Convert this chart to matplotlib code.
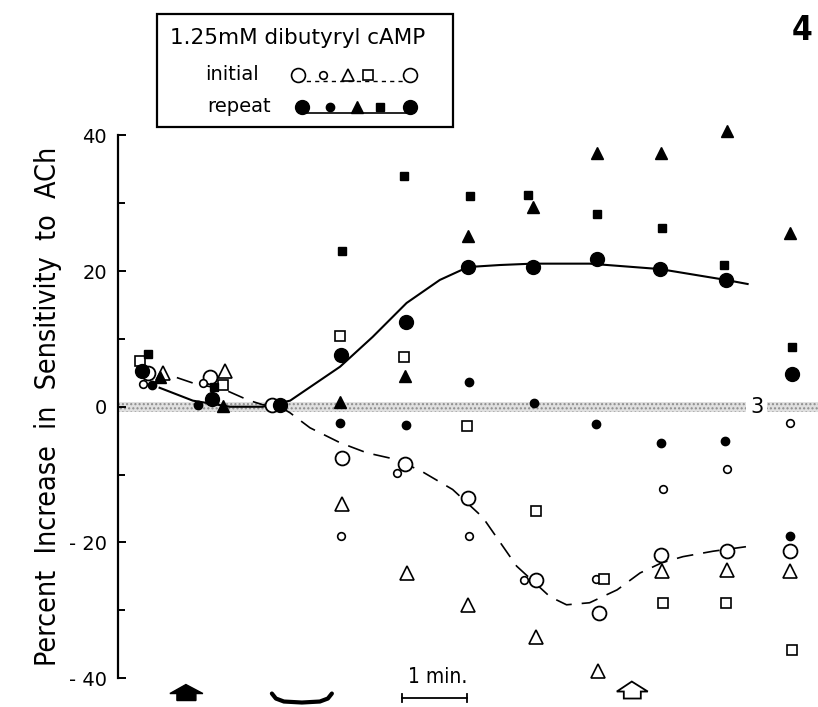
import matplotlib
matplotlib.use('Agg')
import matplotlib.pyplot as plt
from matplotlib import font_manager
from matplotlib.patches import Polygon, Rectangle
from matplotlib.lines import Line2D

# Percent increase in ACh sensitivity, 1.25 mM dibutyryl cAMP.
# x in minutes (0 = end of the bracket), y in percent.

# initial application
t_init_big = [-2.06, -1.09, -0.12, 0.97, 1.95, 2.94, 4.0, 4.98, 5.95, 6.98, 7.97]
y_init_big = [5.0, 4.4, 0.3, -7.5, -8.5, -13.5, -25.5, -30.4, -21.9, -21.2, -21.2]
t_init_small = [-2.14, -1.2, 0.95, 1.83, 2.95, 3.81, 4.94, 5.98, 6.98, 7.97]
y_init_small = [3.4, 3.5, -19.0, -9.7, -19.0, -25.6, -25.4, -12.1, -9.2, -2.4]
t_init_tri = [-1.83, -0.86, 0.97, 1.98, 2.94, 4.0, 4.97, 5.97, 6.98, 7.97]
y_init_tri = [5.0, 5.2, -14.4, -24.5, -29.3, -34.0, -38.9, -24.2, -24.0, -24.2]
t_init_sq = [-2.19, -0.89, 0.94, 1.94, 2.92, 4.0, 5.06, 5.98, 6.97, 8.0]
y_init_sq = [6.8, 3.2, 10.5, 7.4, -2.8, -15.3, -25.4, -29.0, -29.0, -35.8]

# repeat application
t_rep_big = [-2.16, -1.06, 0.0, 0.95, 1.97, 2.94, 3.95, 4.95, 5.94, 6.97, 8.0]
y_rep_big = [5.2, 1.2, 0.3, 7.7, 12.5, 20.6, 20.6, 21.8, 20.3, 18.7, 4.9]
t_rep_small = [-2.0, -1.28, 0.94, 1.97, 2.95, 3.97, 4.94, 5.95, 6.95, 7.97]
y_rep_small = [3.2, 0.3, -2.4, -2.7, 3.7, 0.6, -2.5, -5.4, -5.1, -19.1]
t_rep_tri = [-1.88, -0.89, 0.94, 1.95, 2.94, 3.95, 4.95, 5.95, 6.98, 7.97]
y_rep_tri = [4.4, 0.15, 0.7, 4.6, 25.2, 29.5, 37.4, 37.4, 40.6, 25.6]
t_rep_sq = [-2.06, -1.03, 0.97, 1.94, 2.97, 3.88, 4.95, 5.97, 6.94, 8.0]
y_rep_sq = [7.8, 2.9, 23.0, 34.0, 31.1, 31.2, 28.4, 26.4, 20.9, 8.8]

# hand drawn curves
t_curve_rep = [-1.88, -1.36, -0.78, -0.27, 0.16, 0.94, 1.45, 1.98, 2.5, 2.94,
               3.44, 3.95, 4.84, 5.94, 6.97, 7.31]
y_curve_rep = [2.8, 0.9, 0.0, 0.0, 0.9, 5.9, 10.3, 15.3, 18.7, 20.6,
               20.9, 21.1, 21.1, 20.3, 18.7, 18.1]
t_curve_init = [-1.61, -1.36, -0.86, -0.5, -0.27, 0.0, 0.16, 0.47, 0.94, 1.36,
                1.83, 2.23, 2.7, 3.17, 3.7, 4.22, 4.48, 4.84, 5.27, 5.63,
                5.97, 6.3, 6.77, 7.39]
y_curve_init = [4.3, 3.5, 2.5, 1.0, 0.3, 0.0, -0.9, -3.1, -5.3, -6.8,
                -7.8, -9.6, -12.2, -16.3, -23.5, -28.0, -29.2, -28.9, -27.0, -24.5,
                -23.0, -22.1, -21.3, -20.5]

yticks = [-40, -20, 0, 20, 40]
yticklabels = ['- 40', '- 20', '0', '20', '40']

# fonts {{{
names = {f.name for f in font_manager.fontManager.ttflist}
narrow = 'Liberation Sans Narrow' if 'Liberation Sans Narrow' in names else 'DejaVu Sans'
plt.rcParams['font.family'] = ['DejaVu Sans']
plt.rcParams['hatch.linewidth'] = 1.0
#}}}

W, H = 818, 707
fig = plt.figure(figsize=(W/100, H/100), dpi=100)

def px(x, y):
    return x/W, 1 - y/H

# axes: left spine at x=118 px, 40 at y=135 px, -40 at y=678 px
ax = fig.add_axes([118/W, 0, 1 - 118/W, 607/H])
ax.set_xlim(-2.53, 8.41)
ax.set_ylim(-44.27, 45.23)
ax.patch.set_alpha(0)

for s in ['top', 'right', 'bottom']:
    ax.spines[s].set_visible(False)
ax.spines['left'].set_bounds(-40, 40)
ax.spines['left'].set_linewidth(1.6)
ax.set_xticks([])
ax.set_yticks(yticks)
ax.set_yticklabels(yticklabels, fontsize=14)
ax.set_yticks([-30, -10, 10, 30], minor=True)
ax.tick_params(axis='y', which='both', direction='in', width=1.4, pad=8)
ax.tick_params(axis='y', which='major', length=6)
ax.tick_params(axis='y', which='minor', length=5)

ax.set_ylabel('Percent  Increase  in  Sensitivity  to  ACh', fontsize=20.5,
              family=narrow, fontstretch='condensed')
ax.yaxis.set_label_coords(-0.08, 0.495)

# stippled zero band, broken for the "3"
for x0, x1 in [(-2.53, 7.28), (7.62, 8.41)]:
    ax.fill_between([x0, x1], -0.75, 0.75, facecolor='0.88', edgecolor='0.55',
                    hatch='....', linewidth=0, zorder=1)
ax.text(7.45, 0.0, '3', fontsize=15, ha='center', va='center')

# curves
ax.plot(t_curve_rep, y_curve_rep, color='k', lw=1.5, zorder=2)
ax.plot(t_curve_init, y_curve_init, color='k', lw=1.2, dashes=(10, 6), zorder=2)

# points
open_kw = dict(ls='none', mfc='white', mec='k', zorder=3)
fill_kw = dict(ls='none', color='k', zorder=4)
ax.plot(t_init_big, y_init_big, 'o', ms=10, mew=1.3, **open_kw)
ax.plot(t_init_small, y_init_small, 'o', ms=5.5, mew=1.2, **open_kw)
ax.plot(t_init_tri, y_init_tri, '^', ms=9.5, mew=1.2, **open_kw)
ax.plot(t_init_sq, y_init_sq, 's', ms=7, mew=1.2, **open_kw)
ax.plot(t_rep_big, y_rep_big, 'o', ms=10, **fill_kw)
ax.plot(t_rep_small, y_rep_small, 'o', ms=6, **fill_kw)
ax.plot(t_rep_tri, y_rep_tri, '^', ms=8.5, **fill_kw)
ax.plot(t_rep_sq, y_rep_sq, 's', ms=5.5, **fill_kw)

# bottom symbols, drawn in pixel units
def pts(lst):
    return [((x - 280)/64, (407 - y)/6.7875) for x, y in lst]

arrow = [(170, 694), (186, 685), (203, 694), (196, 694), (196, 701), (177, 701), (177, 694)]
ax.add_patch(Polygon(pts(arrow), closed=True, fc='k', ec='k', lw=1, clip_on=False))
open_arrow = [(617, 692), (632, 682), (648, 692), (641, 692), (641, 699), (624, 699), (624, 692)]
ax.add_patch(Polygon(pts(open_arrow), closed=True, fc='white', ec='k', lw=1.3, clip_on=False))
bracket = pts([(272, 694), (276, 699), (284, 702), (302, 703), (320, 702), (328, 699), (332, 694)])
ax.plot([p[0] for p in bracket], [p[1] for p in bracket], color='k', lw=3,
        solid_capstyle='round', clip_on=False)
bar = pts([(402, 698), (467, 698)])
ax.plot([bar[0][0], bar[1][0]], [bar[0][1], bar[1][1]], color='k', lw=1.3, clip_on=False)
for x in [402, 467]:
    tk = pts([(x, 694), (x, 702)])
    ax.plot([tk[0][0], tk[1][0]], [tk[0][1], tk[1][1]], color='k', lw=1.3, clip_on=False)
tx, ty = pts([(438, 677)])[0]
ax.text(tx, ty, '1 min.', fontsize=15, ha='center', va='center', family=narrow,
        fontstretch='condensed')

# legend box
x0, y0 = px(157, 127)
x1, y1 = px(453, 14)
fig.patches.append(Rectangle((x0, y0), x1 - x0, y1 - y0, transform=fig.transFigure,
                             fill=False, ec='k', lw=1.6))
fig.text(*px(298, 38), '1.25mM dibutyryl cAMP', fontsize=15.5, ha='center', va='center')
fig.text(*px(205, 75), 'initial', fontsize=14, ha='left', va='center')
fig.text(*px(207, 106), 'repeat', fontsize=14, ha='left', va='center')

fig.lines.append(Line2D([px(298, 0)[0], px(410, 0)[0]], [px(0, 81)[1]] * 2,
                        transform=fig.transFigure, color='k', lw=1, dashes=(3, 3)))
fig.lines.append(Line2D([px(302, 0)[0], px(410, 0)[0]], [px(0, 113)[1]] * 2,
                        transform=fig.transFigure, color='k', lw=1.2))
leg_init = [(298, 'o', 10), (323, 'o', 5.5), (348, '^', 9), (368, 's', 7), (410, 'o', 10)]
for x, m, s in leg_init:
    fig.lines.append(Line2D([px(x, 0)[0]], [px(0, 75)[1]], transform=fig.transFigure,
                            marker=m, ms=s, mfc='white', mec='k', mew=1.2, ls='none'))
leg_rep = [(302, 'o', 10), (330, 'o', 6), (357, '^', 8.5), (380, 's', 5.5), (410, 'o', 10)]
for x, m, s in leg_rep:
    fig.lines.append(Line2D([px(x, 0)[0]], [px(0, 107)[1]], transform=fig.transFigure,
                            marker=m, ms=s, color='k', ls='none'))

fig.text(*px(802, 30), '4', fontsize=24, fontweight='bold', ha='center', va='center',
         family=narrow, fontstretch='condensed')

plt.savefig('out.png', dpi=100)
